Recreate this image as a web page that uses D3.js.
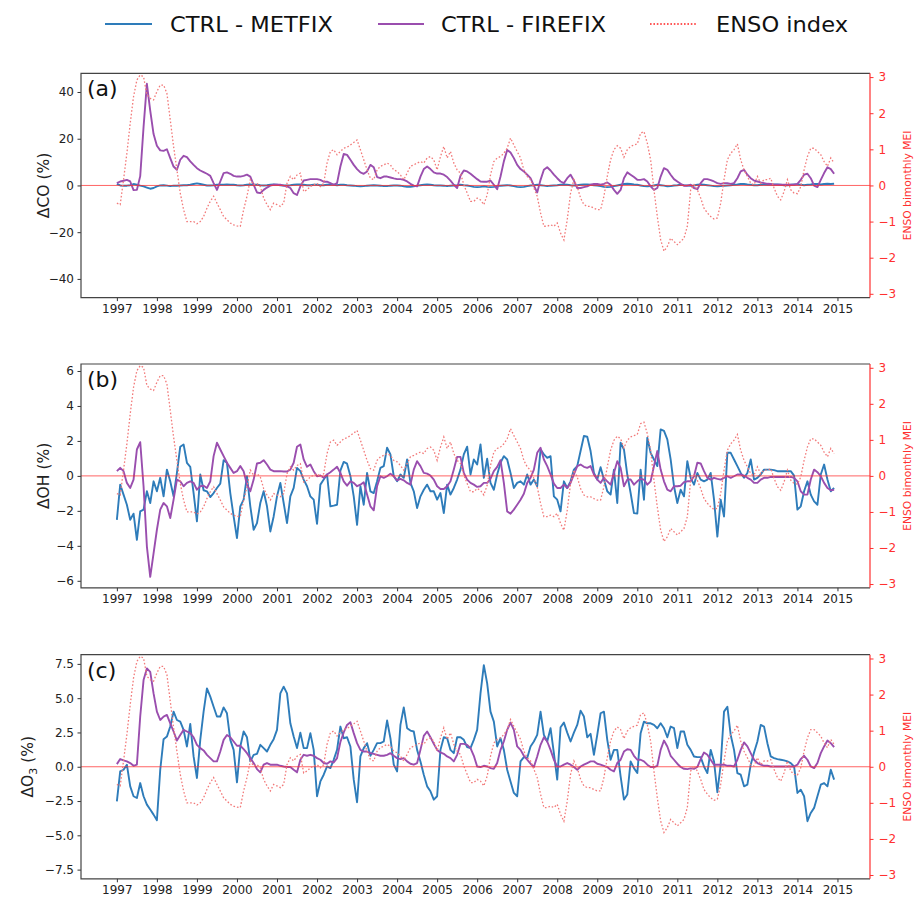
<!DOCTYPE html>
<html><head><meta charset="utf-8">
<script src="https://cdn.jsdelivr.net/npm/d3@7"></script>
<style>body{margin:0;background:#fff}svg{display:block;font-family:"DejaVu Sans",sans-serif}</style>
</head><body><svg id="c" width="914" height="901"></svg>
<script>
// ---- data (monthly, Jan 1997 .. Dec 2014) ----
const years = d3.range(1997, 2016);
const enso = [
-0.49,-0.53,0.16,0.89,1.72,2.46,2.92,3.06,3.01,2.51,2.41,2.37,
2.60,2.78,2.78,2.55,1.82,1.08,0.43,-0.21,-0.67,-1.0,-1.0,-1.0,
-1.06,-1.0,-0.86,-0.63,-0.44,-0.30,-0.49,-0.67,-0.86,-0.95,-1.04,-1.09,
-1.12,-1.13,-0.67,-0.30,0.16,0.02,0.06,-0.03,-0.35,-0.53,-0.67,-0.49,
-0.53,-0.58,-0.49,0.06,0.25,0.16,0.29,0.34,-0.17,-0.12,-0.03,0.02,
0.06,-0.03,0.06,0.62,0.94,0.99,0.85,0.94,1.03,1.06,1.12,1.19,
1.26,0.99,0.71,0.43,0.20,0.16,0.43,0.53,0.57,0.62,0.57,0.43,
0.39,0.29,0.16,0.34,0.53,0.57,0.62,0.66,0.62,0.76,0.80,0.71,
0.43,0.80,1.08,0.76,0.94,0.62,0.43,0.34,0.02,-0.21,-0.44,-0.44,
-0.35,-0.40,-0.53,-0.26,0.29,0.66,0.76,0.80,0.89,1.03,1.31,1.12,
0.94,0.76,0.43,0.25,0.16,-0.07,-0.30,-0.76,-1.13,-1.13,-1.09,-1.13,
-1.04,-1.32,-1.51,-0.95,-0.21,0.16,-0.03,-0.35,-0.53,-0.58,-0.58,-0.63,
-0.67,-0.67,-0.30,0.25,0.71,0.99,1.10,1.03,0.78,0.99,1.08,1.12,
1.15,1.45,1.49,1.17,0.71,-0.12,-0.86,-1.50,-1.82,-1.69,-1.46,-1.55,
-1.64,-1.55,-1.46,-1.13,-0.12,0.02,-0.12,-0.35,-0.63,-0.76,-0.86,-0.93,
-0.90,-0.49,0.16,0.71,0.89,0.99,1.15,0.71,0.43,0.25,0.06,0.02,
0.25,0.06,0.16,0.16,0.20,-0.07,-0.30,-0.40,-0.17,0.16,-0.12,-0.21,
-0.23,-0.03,0.43,0.80,1.03,1.03,0.94,0.85,0.66,0.53,0.76,0.62];

const coMetfix = [
0.7,0,-0.1,-0.1,0.1,0.6,0.3,-0.1,-0.4,-0.9,-1.4,-1.1,
-0.4,0,0.1,-0.1,-0.3,-0.1,-0.1,0,0.1,0.1,0.3,0.6,
0.9,0.6,0.3,0,0,0.1,0.3,0.3,0.3,0.4,0.3,0.3,
0.1,0,0.1,0.3,0.4,0.3,0.3,0.1,0,0.1,0.3,0.4,
0.3,0.1,0,0,0.1,0.3,0.4,0.4,0.3,0.1,0.1,0.3,
0.3,0.1,0.1,0.3,0.4,0.3,0.1,0.3,0.3,0.1,0,-0.1,
-0.3,-0.4,-0.3,-0.1,0,0.1,0,-0.1,-0.3,-0.3,-0.1,0,
0,-0.1,-0.4,-0.6,-0.6,-0.4,-0.1,0.1,0.3,0.4,0.3,0.1,
0,0,-0.1,-0.3,-0.1,0,0.1,0.3,0.1,0,-0.3,-0.6,
-0.7,-0.6,-0.4,-0.6,-0.7,-0.6,-0.3,-0.1,0,0.1,0,-0.3,
-0.6,-0.7,-0.6,-0.3,0,0.1,0.3,0.1,-0.1,-0.3,-0.1,0,
0.1,0.3,0.4,0.3,0.1,0,0.1,0.3,0.4,0.4,0.3,0.1,
0,-0.3,-0.6,-0.7,-0.6,-0.3,0,0.3,0.6,0.7,0.6,0.4,
0.3,0,-0.3,-0.4,-0.3,0,0.3,0.1,-0.1,-0.4,-0.3,0,
0.1,0.3,0.1,0,-0.1,0,0.3,0.4,0.3,0.1,-0.1,-0.3,
-0.4,-0.3,-0.1,0,0.1,0.3,0.4,0.6,0.6,0.4,0.3,0.1,
0.1,0.3,0.4,0.3,0.3,0.4,0.4,0.3,0.1,0.1,0.3,0.4,
0.4,0.3,0.1,0.3,0.4,0.6,0.6,0.4,0.6,0.7,0.6,0.7];

const coFirefix = [
1.0,1.7,2.0,2.4,1.7,-2.0,-1.9,4.0,25,43.5,32,22,
17,15,14.8,15.5,11.7,8.1,6.7,11,12.7,12.1,10.3,8.8,
7.4,6.4,5.7,5.0,4.1,1.0,-1.9,1.7,5.3,5.6,5.0,4.1,
3.8,3.8,4.1,4.6,3.8,0.3,-3.0,-3.3,-1.9,-0.9,-0.1,0.3,
0.3,0.3,-0.1,-0.4,-1.1,-3.3,-4.1,-0.4,2.1,2.4,2.7,2.7,
2.7,2.4,1.6,1.6,1.0,0.3,1.0,8.1,13.5,13.1,11,8.8,
7.0,5.6,5.0,6.0,8.8,7.8,3.6,3.1,3.8,3.8,3.4,3.0,
2.7,2.7,2.4,1.7,0.7,-0.1,-0.4,3.8,7.0,8.1,7.0,5.6,
5.1,5.1,4.6,3.6,2.1,0.3,-1.1,4.1,6.4,6.0,5.0,3.8,
2.7,1.7,1.6,1.6,2.1,0.3,-1.6,3.8,10.3,15.2,14.1,11.7,
8.8,7.0,6.0,4.6,3.1,-0.1,-3.0,2.4,6.7,7.8,6.4,4.6,
3.1,1.7,1.0,3.1,4.6,2.1,-1.1,-1.1,-0.7,-0.4,0.3,0.6,
0.6,0.3,0.7,1.3,0.3,-1.9,-3.6,-1.9,3.1,5.6,4.6,3.6,
2.4,2.4,2.7,1.7,-0.4,-1.9,-1.1,3.8,7.4,6.7,4.6,2.7,
1.7,0.7,-0.1,-0.1,0.3,-1.1,-1.6,1.0,2.7,2.7,2.3,1.7,
1.0,0.7,1.0,1.0,0.7,1.0,3.1,6.0,6.7,4.6,3.1,2.1,
1.7,1.3,1.0,0.7,0.6,0.3,0.3,0.3,0.3,0.3,0.3,0.3,
0.7,2.4,4.6,5.0,3.1,-0.1,-0.7,2.4,5.3,7.8,7.0,5.0];

const ohMetfix = [
-2.51,-0.5,-1.07,-1.65,-2.51,-2.16,-3.66,-2.03,-1.93,-0.88,-1.55,-0.31,
-0.88,-0.11,-1.17,0.36,-0.31,-1.17,0.17,1.67,1.8,0.75,0.52,-0.98,
-2.6,0.08,-0.82,-0.88,-1.21,-0.98,-0.69,-0.44,0.9,0.75,-0.98,-2.32,
-3.56,-1.74,-1.36,-0.02,-1.74,-3.08,-2.7,-1.55,-0.88,-1.74,-3.18,-2.32,
-1.17,-0.4,-1.55,-2.7,-1.17,-0.69,0.46,0.27,-0.21,-0.59,-1.17,-1.36,
-2.74,-0.5,-0.21,0.08,-1.74,-1.7,-1.65,0.3,0.8,0.7,0.0,-1.17,
-2.8,-0.59,-1.65,0.17,-0.88,-0.98,-0.31,0.46,0.56,1.61,1.23,-0.02,
-0.31,0.08,-0.11,0.94,-0.4,-0.88,-1.84,-1.17,-0.79,-0.5,-0.88,-0.88,
-1.36,-0.98,-2.13,-0.5,-1.07,-0.69,-0.21,0.36,1.23,1.67,0.08,0.94,
0.65,1.8,-0.11,0.98,-0.4,-0.79,0.08,0.75,1.13,0.94,0.17,-0.69,
-0.4,-0.31,-0.5,0.08,-0.5,-0.21,-0.59,1.51,1.23,1.03,1.13,-1.17,
-1.36,-2.03,-0.31,-0.69,-0.31,0.36,0.56,1.42,2.28,2.24,1.42,0.17,
-0.21,0.5,-0.21,-0.88,-1.07,0.36,-1.55,1.9,1.51,0.08,-0.98,-2.13,
-2.16,0.36,-1.36,2.18,1.32,0.94,0.56,2.66,2.57,2.09,0.94,-0.59,
-1.55,-0.79,-1.17,0.84,-0.11,-0.5,0.17,-0.21,-0.31,-0.21,0.17,-1.36,
-3.47,-1.36,-2.32,1.32,1.32,0.94,0.56,0.17,-0.11,0.17,0.94,-0.21,
-0.11,0.08,0.36,0.36,0.36,0.33,0.27,0.27,0.27,0.27,0.27,0.02,
-1.93,-1.74,-0.88,-0.31,-1.07,-1.46,-1.65,0.08,0.65,-0.21,-0.88,-0.69];

const ohFirefix = [
0.27,0.46,0.27,-0.4,-0.69,-0.21,1.51,1.93,-0.59,-4.04,-5.77,-4.43,
-3.08,-1.93,-1.55,-1.74,-2.41,-1.36,-0.21,-0.31,-0.59,-0.4,-0.31,-0.4,
-0.79,-0.59,-0.56,-0.69,-0.31,1.13,1.9,1.51,1.13,0.75,0.46,0.17,
0.27,0.56,0.27,-0.5,-0.88,-0.21,0.71,0.75,0.9,0.65,0.36,0.27,
0.27,0.27,0.25,0.25,0.36,0.75,1.67,1.8,0.94,0.52,0.65,0.27,
-0.02,0.02,-0.11,0.08,0.21,0.36,0.52,0.17,-0.31,-0.56,-0.31,-0.4,
-0.59,-0.5,-0.36,-1.07,-1.74,-1.97,-0.59,-0.02,-0.11,-0.02,0.13,-0.02,
-0.25,-0.17,-0.25,-0.4,-0.5,0.36,0.84,0.56,0.17,0.13,0.02,-0.21,
-0.59,-0.75,-0.75,-0.59,-0.31,0.36,1.09,1.09,0.17,-0.21,-0.4,-0.5,
-0.63,-0.59,-0.4,-0.4,-0.17,0.27,0.52,0.9,-0.4,-2.03,-2.16,-1.93,
-1.65,-1.36,-1.02,-0.4,-0.11,0.36,1.32,1.61,0.94,0.56,0.08,-0.44,
-0.69,-0.69,-0.5,-0.69,-0.4,0.08,0.56,0.65,0.52,0.46,0.56,0.08,
-0.21,-0.4,-0.11,-0.31,-0.5,0.17,0.84,0.46,-0.59,-0.21,-0.21,-0.5,
-0.31,-0.17,-0.21,-0.5,-0.31,0.56,1.42,0.36,-0.31,-0.79,-0.88,-0.59,
-0.59,-0.56,-0.36,-0.31,-0.31,-0.02,0.75,0.71,0.27,-0.11,-0.21,-0.11,
-0.17,-0.21,-0.11,-0.02,-0.11,-0.02,0.08,0.08,0.02,-0.11,-0.21,-0.4,
-0.4,-0.21,-0.11,-0.11,-0.06,-0.06,-0.06,-0.06,-0.06,-0.06,-0.06,-0.11,
-0.31,-0.88,-1.07,-1.07,-0.21,0.36,0.21,-0.02,-0.4,-0.69,-0.82,-0.79];

const o3Metfix = [
-2.52,-0.34,-0.22,0.15,-1.43,-2.15,-2.28,-1.19,-2.15,-2.76,-3.12,-3.49,
-3.9,-0.22,2.01,2.2,2.93,4.02,3.41,3.29,2.69,1.48,3.12,0.75,
-0.82,1.96,4.02,5.71,5.11,4.38,3.66,3.66,4.33,3.9,1.96,1.23,
-1.14,1.48,2.57,2.15,0.39,0.87,0.94,1.6,1.36,1.11,1.6,2.01,
2.69,5.35,5.84,5.35,3.17,2.2,1.36,2.49,1.36,1.36,2.45,1.23,
-2.15,-1.07,-0.58,0.02,-0.1,0.51,1.23,2.93,2.08,2.15,1.48,-0.94,
-2.59,0.75,1.36,1.72,0.8,1.23,1.72,1.72,1.84,3.37,2.08,0.15,
-0.34,3.05,4.33,2.81,2.64,2.57,1.23,0.39,-0.58,-1.43,-1.79,-2.4,
-2.15,1.23,2.15,2.08,1.23,0.99,2.15,2.15,1.96,1.43,1.36,1.96,
2.69,5.35,7.41,6.08,4.02,3.29,1.48,2.08,1.23,-0.22,-1.07,-1.91,
-2.15,0.39,0.7,0.63,1.48,1.84,2.32,4.02,2.32,1.84,2.81,0.99,
-0.94,2.88,3.22,2.49,1.84,2.49,3.05,4.09,3.66,2.15,2.4,0.87,
2.32,3.9,4.02,1.96,0.51,1.23,1.23,-0.7,-2.4,-2.03,0.39,-0.1,
-0.46,2.45,3.29,3.17,3.17,3.05,2.81,3.17,2.81,2.15,2.93,2.81,
1.36,2.57,2.57,1.6,1.23,0.75,0.7,0.7,0.02,-0.46,1.23,0.39,
-1.86,0.15,4.02,4.38,2.32,1.23,-0.46,-0.58,-1.43,-1.31,0.15,1.04,
1.84,3.05,2.93,1.72,0.75,0.63,0.56,0.51,0.46,0.39,0.27,0.02,
-1.91,-1.67,-2.15,-3.97,-3.37,-3.0,-2.15,-1.31,-1.19,-1.43,-0.22,-0.94];

const o3Firefix = [
0.19,0.56,0.46,0.39,0.27,0.07,0.15,3.66,6.32,7.17,6.92,5.35,
4.02,3.41,3.66,3.78,3.17,2.57,1.91,2.32,2.69,2.57,2.45,2.15,
1.6,1.36,1.19,0.87,0.63,0.39,0.39,1.11,1.96,2.32,2.15,1.84,
1.53,1.53,1.28,0.99,0.63,0.27,-0.17,-0.41,0.15,0.27,0.15,0.15,
0.15,0.07,0.02,-0.02,-0.02,-0.22,-0.41,0.51,0.87,0.8,0.87,0.8,
0.63,0.51,0.27,0.22,0.39,0.31,0.63,1.8,2.5,3.05,3.25,2.45,
1.72,1.23,1.11,1.11,0.99,0.94,0.87,0.8,0.8,0.87,0.99,0.8,
0.63,0.56,0.63,0.39,0.22,0.15,0.27,1.23,2.25,2.57,2.15,1.67,
1.23,1.04,0.94,0.75,0.63,0.39,0.87,1.67,1.67,1.6,1.36,0.8,
0.02,-0.02,0.07,0.02,-0.1,-0.15,0.27,1.23,1.84,2.69,3.22,2.69,
1.48,1.23,0.8,0.51,0.22,-0.02,0.75,1.6,2.15,1.84,1.23,0.51,
0.02,0.02,0.15,0.27,0.15,-0.02,-0.22,0.02,0.15,0.27,0.39,0.39,
0.22,0.15,0.07,-0.02,-0.22,-0.34,0.27,0.51,1.11,1.28,1.23,0.8,
0.51,0.51,0.39,0.15,-0.02,-0.02,0.07,1.23,1.91,1.48,0.8,0.51,
0.22,-0.02,-0.15,-0.17,-0.12,-0.15,-0.02,0.56,1.04,0.87,0.51,0.15,
0.15,0.15,0.15,0.07,0.07,0.02,0.51,1.23,1.77,1.48,0.99,0.51,
0.27,0.15,0.07,0.07,0.02,0.02,0.02,0.02,0.02,0.02,0.02,0.02,
0.15,0.56,0.8,0.51,0.02,-0.1,0.27,0.99,1.48,1.91,1.72,1.43];

const ticksCO = [-40,-20,0,20,40];
const ticksOH = [-6,-4,-2,0,2,4,6];
const ticksO3 = [-7.5,-5,-2.5,0,2.5,5,7.5];
const ticksENSO = [-3,-2,-1,0,1,2,3];
const legendLabels = ["CTRL - METFIX","CTRL - FIREFIX","ENSO index"];
const panelTags = ["(a)","(b)","(c)"];
const seriesNames = ["ΔCO","ΔOH","ΔO3"];

// ---- drawing ----
const BLUE = "#2e7cba", PURPLE = "#9a4eae", ENSOC = "#f27a7a", RED = "#ff3030";
const svg = d3.select("#c");
const dates = enso.map((_, i) => 1997 + i / 12);
const x = d3.scaleLinear().domain([1996.104, 2015.813]).range([81, 870]);

const panels = [
  {top:73.3, bottom:297.6, lim:48, ticks:ticksCO, fmt:d3.format("d"), met:coMetfix, fire:coFirefix, lx:49},
  {top:364, bottom:587.8, lim:6.4, ticks:ticksOH, fmt:d3.format("d"), met:ohMetfix, fire:ohFirefix, lx:49},
  {top:654.7, bottom:878.8, lim:8.17, ticks:ticksO3, fmt:d3.format(".1f"), met:o3Metfix, fire:o3Firefix, lx:33}
];

panels.forEach((p, k) => {
  const y = d3.scaleLinear().domain([-p.lim, p.lim]).range([p.bottom, p.top]);
  const yr = d3.scaleLinear().domain([-3.105, 3.105]).range([p.bottom, p.top]);
  const g = svg.append("g");

  // axes
  const ax = g.append("g").attr("transform", `translate(0,${p.bottom})`)
    .call(d3.axisBottom(x).tickValues(years).tickFormat(d3.format("d")).tickSize(3.5).tickPadding(3.5).tickSizeOuter(0));
  const ay = g.append("g").attr("transform", `translate(81,0)`)
    .call(d3.axisLeft(y).tickValues(p.ticks).tickFormat(p.fmt).tickSize(3.5).tickPadding(3.5).tickSizeOuter(0));
  const ar = g.append("g").attr("transform", `translate(870,0)`)
    .call(d3.axisRight(yr).tickValues(ticksENSO).tickFormat(d3.format("d")).tickSize(3.5).tickPadding(5).tickSizeOuter(0));
  [ax, ay, ar].forEach(a => { a.select(".domain").remove(); a.selectAll("text").attr("font-size", 12).attr("font-family", "DejaVu Sans"); });
  ax.selectAll("line").attr("stroke", "#333"); ax.selectAll("text").attr("fill", "#222");
  ay.selectAll("line").attr("stroke", "#333"); ay.selectAll("text").attr("fill", "#222");
  ar.selectAll("line").attr("stroke", RED); ar.selectAll("text").attr("fill", RED);

  // series
  const line = d3.line().x((d, i) => x(dates[i])).y(d => y(d));
  const lineR = d3.line().x((d, i) => x(dates[i])).y(d => yr(d));
  g.append("path").datum(p.met).attr("d", line).attr("fill", "none").attr("stroke", BLUE)
    .attr("stroke-width", 1.9).attr("stroke-linejoin", "round");
  g.append("path").datum(p.fire).attr("d", line).attr("fill", "none").attr("stroke", PURPLE)
    .attr("stroke-width", 1.9).attr("stroke-linejoin", "round");
  g.append("line").attr("x1", 81).attr("x2", 870).attr("y1", yr(0)).attr("y2", yr(0))
    .attr("stroke", RED).attr("stroke-opacity", 0.75).attr("stroke-width", 1);
  g.append("path").datum(enso).attr("d", lineR).attr("fill", "none").attr("stroke", ENSOC)
    .attr("stroke-width", 1.3).attr("stroke-dasharray", "1.6,2");

  // frame
  g.append("path").attr("d", `M870,${p.top}H81V${p.bottom}H870`).attr("fill", "none").attr("stroke", "#444").attr("stroke-width", 1.2);
  g.append("line").attr("x1", 870).attr("x2", 870).attr("y1", p.top).attr("y2", p.bottom).attr("stroke", RED).attr("stroke-width", 1.2);

  // panel tag
  g.append("text").attr("x", 87).attr("y", p.top + 23).attr("font-size", 22).attr("fill", "#111").text(panelTags[k]);

  // y labels
  const cy = (p.top + p.bottom) / 2;
  const yl = g.append("text").attr("transform", `translate(${p.lx},${cy}) rotate(-90)`)
    .attr("text-anchor", "middle").attr("font-size", 15.5).attr("fill", "#222");
  if (k === 2) {
    yl.append("tspan").text("ΔO");
    yl.append("tspan").attr("font-size", 11).attr("dy", 4).text("3");
    yl.append("tspan").attr("dy", -4).text(" (%)");
  } else {
    yl.text(seriesNames[k] + " (%)");
  }
  g.append("text").attr("transform", `translate(911,${cy}) rotate(-90)`)
    .attr("text-anchor", "middle").attr("font-size", 10.7).attr("fill", RED).text("ENSO bimonthly MEI");
});

// legend
const leg = svg.append("g");
const legX = [105, 378, 650], legL = [47, 46, 47], legT = [170, 441, 716], legW = [163, 165, 132];
const legStyle = [
  {c: BLUE, w: 2, d: null}, {c: PURPLE, w: 2, d: null}, {c: "#ff2020", w: 1.6, d: "1.6,1.8"}];
legendLabels.forEach((t, i) => {
  leg.append("line").attr("x1", legX[i]).attr("x2", legX[i] + legL[i]).attr("y1", 24).attr("y2", 24)
    .attr("stroke", legStyle[i].c).attr("stroke-width", legStyle[i].w).attr("stroke-dasharray", legStyle[i].d);
  leg.append("text").attr("x", legT[i]).attr("y", 32).attr("font-size", 21.5).attr("fill", "#111")
    .attr("textLength", legW[i]).attr("lengthAdjust", "spacingAndGlyphs").text(t);
});
</script></body></html>
